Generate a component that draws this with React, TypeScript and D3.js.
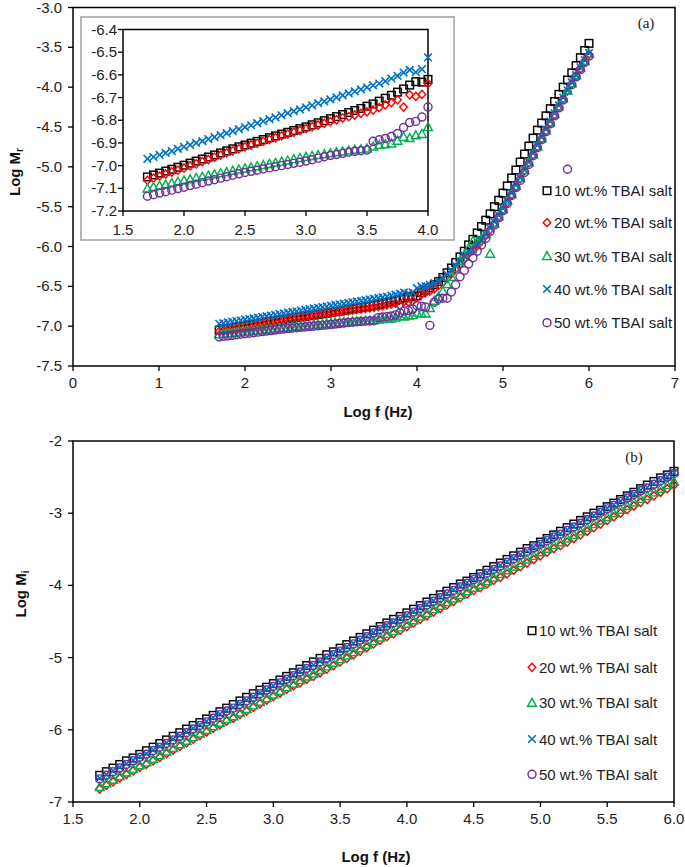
import React from "react";
import * as d3 from "d3";

// ---------- data ----------
const LOG_F = [1.70,1.75,1.80,1.85,1.90,1.95,2.00,2.05,2.10,2.15,2.20,2.25,2.30,2.35,2.40,2.45,2.50,2.55,2.60,2.65,2.70,2.75,2.80,2.85,2.90,2.95,3.00,3.05,3.10,3.15,3.20,3.25,3.30,3.35,3.40,3.45,3.50,3.55,3.60,3.65,3.70,3.75,3.80,3.85,3.90,3.95,4.00,4.05,4.10,4.15,4.20,4.25,4.30,4.35,4.40,4.45,4.50,4.55,4.60,4.65,4.70,4.75,4.80,4.85,4.90,4.95,5.00,5.05,5.10,5.15,5.20,5.25,5.30,5.35,5.40,5.45,5.50,5.55,5.60,5.65,5.70,5.75,5.80,5.85,5.90,5.95,6.00];

const SERIES_NAMES = ["10 wt.% TBAI salt","20 wt.% TBAI salt","30 wt.% TBAI salt","40 wt.% TBAI salt","50 wt.% TBAI salt"];
const SERIES_COLORS = ["#000000","#ff0000","#00b050","#0070c0","#7030a0"];
const SERIES_SHAPES = ["square","diamond","triangle","cross","circle"];

// Log Mr (panel a)
const MR_10 = [-7.050,-7.041,-7.033,-7.024,-7.016,-7.007,-6.998,-6.989,-6.980,-6.971,-6.962,-6.953,-6.944,-6.935,-6.926,-6.917,-6.909,-6.901,-6.893,-6.885,-6.877,-6.869,-6.861,-6.853,-6.845,-6.837,-6.829,-6.820,-6.811,-6.802,-6.793,-6.784,-6.775,-6.766,-6.757,-6.748,-6.738,-6.728,-6.716,-6.703,-6.690,-6.676,-6.662,-6.645,-6.630,-6.632,-6.620,
  -6.58,-6.55,-6.52,-6.48,-6.44,-6.39,-6.33,-6.27,-6.20,-6.13,-6.06,-5.98,-5.91,-5.83,-5.75,-5.67,-5.59,-5.50,-5.42,-5.33,-5.24,-5.14,-5.04,-4.94,-4.84,-4.74,-4.64,-4.54,-4.45,-4.36,-4.27,-4.18,-4.09,-4.00,-3.91,-3.82,-3.73,-3.63,-3.54,-3.45];
const MR_20 = [-7.065,-7.055,-7.046,-7.037,-7.028,-7.020,-7.011,-7.001,-6.992,-6.982,-6.973,-6.963,-6.954,-6.944,-6.935,-6.926,-6.917,-6.909,-6.901,-6.893,-6.885,-6.877,-6.869,-6.861,-6.853,-6.845,-6.837,-6.829,-6.821,-6.814,-6.806,-6.798,-6.790,-6.784,-6.777,-6.770,-6.763,-6.755,-6.744,-6.732,-6.722,-6.710,-6.742,-6.688,-6.695,-6.686,-6.638,
  -6.60,-6.58,-6.56,-6.53,-6.49,-6.45,-6.40,-6.34,-6.28,-6.22,-6.16,-6.09,-6.05,-5.99,-5.93,-5.86,-5.79,-5.71,-5.63,-5.54,-5.45,-5.35,-5.25,-5.15,-5.05,-4.95,-4.85,-4.75,-4.65,-4.55,-4.45,-4.35,-4.25,-4.15,-4.05,-3.96,-3.86,-3.77,-3.68,-3.59];
const MR_30 = [-7.100,-7.094,-7.088,-7.083,-7.077,-7.071,-7.065,-7.060,-7.054,-7.049,-7.044,-7.038,-7.033,-7.028,-7.022,-7.017,-7.012,-7.007,-7.002,-6.997,-6.992,-6.987,-6.982,-6.977,-6.971,-6.966,-6.961,-6.957,-6.953,-6.949,-6.945,-6.941,-6.937,-6.933,-6.930,-6.927,-6.924,-6.915,-6.909,-6.905,-6.902,-6.890,-6.873,-6.878,-6.866,-6.860,-6.829,
  -6.84,-6.84,-6.77,-6.68,-6.63,-6.56,-6.47,-6.38,-6.27,-6.18,-6.10,-6.02,-5.93,-5.94,-5.90,-5.84,-6.09,-5.71,-5.62,-5.53,-5.42,-5.34,-5.24,-5.14,-5.04,-4.94,-4.84,-4.74,-4.64,-4.54,-4.44,-4.34,-4.24,-4.14,-4.04,-3.95,-3.85,-3.76,-3.67,-3.58];
const MR_40 = [-6.970,-6.962,-6.953,-6.944,-6.936,-6.926,-6.917,-6.909,-6.900,-6.892,-6.883,-6.874,-6.866,-6.857,-6.848,-6.839,-6.830,-6.822,-6.813,-6.804,-6.795,-6.787,-6.778,-6.769,-6.760,-6.752,-6.743,-6.734,-6.725,-6.717,-6.708,-6.699,-6.690,-6.682,-6.673,-6.664,-6.655,-6.646,-6.638,-6.628,-6.616,-6.604,-6.590,-6.578,-6.588,-6.575,-6.523,
  -6.50,-6.50,-6.48,-6.46,-6.43,-6.40,-6.35,-6.30,-6.24,-6.18,-6.12,-6.06,-6.04,-5.98,-5.92,-5.85,-5.77,-5.69,-5.61,-5.52,-5.43,-5.33,-5.23,-5.14,-5.04,-4.94,-4.83,-4.73,-4.63,-4.53,-4.43,-4.33,-4.23,-4.13,-4.04,-3.94,-3.85,-3.75,-3.66,-3.57];
const MR_50 = [-7.135,-7.128,-7.121,-7.115,-7.108,-7.101,-7.095,-7.088,-7.082,-7.075,-7.068,-7.062,-7.055,-7.049,-7.042,-7.036,-7.030,-7.025,-7.020,-7.015,-7.010,-7.005,-7.000,-6.995,-6.990,-6.985,-6.980,-6.974,-6.967,-6.961,-6.955,-6.951,-6.946,-6.941,-6.937,-6.934,-6.931,-6.893,-6.886,-6.880,-6.872,-6.858,-6.832,-6.810,-6.805,-6.786,-6.742,
  -6.75,-6.76,-6.99,-6.70,-6.66,-6.65,-6.65,-6.57,-6.48,-6.38,-6.30,-6.22,-6.14,-6.06,-5.98,-5.90,-5.81,-5.73,-5.64,-5.55,-5.46,-5.36,-5.26,-5.17,-5.07,-4.97,-4.86,-4.76,-4.66,-4.56,-4.46,-4.36,-4.26,-4.16,-5.03,-3.97,-3.87,-3.78,-3.69,-3.61];

// Log Mi (panel b)
const MI_10 = [-6.63,-6.58,-6.53,-6.48,-6.43,-6.39,-6.34,-6.29,-6.24,-6.19,-6.14,-6.09,-6.04,-5.99,-5.94,-5.90,-5.85,-5.80,-5.75,-5.70,-5.65,-5.60,-5.55,-5.50,-5.45,-5.41,-5.36,-5.31,-5.26,-5.21,-5.16,-5.11,-5.06,-5.01,-4.96,-4.92,-4.87,-4.82,-4.77,-4.72,-4.67,-4.62,-4.57,-4.52,-4.47,-4.43,-4.38,-4.33,-4.28,-4.23,-4.18,-4.13,-4.08,-4.03,-3.98,-3.94,-3.89,-3.84,-3.79,-3.74,-3.69,-3.64,-3.59,-3.54,-3.49,-3.45,-3.40,-3.35,-3.30,-3.25,-3.20,-3.15,-3.10,-3.05,-3.00,-2.96,-2.91,-2.86,-2.81,-2.76,-2.71,-2.66,-2.61,-2.56,-2.51,-2.47,-2.42];
const MI_20 = [-6.82,-6.77,-6.72,-6.67,-6.62,-6.57,-6.52,-6.48,-6.43,-6.38,-6.33,-6.28,-6.23,-6.18,-6.13,-6.08,-6.03,-5.98,-5.93,-5.88,-5.84,-5.79,-5.74,-5.69,-5.64,-5.59,-5.54,-5.49,-5.44,-5.39,-5.35,-5.30,-5.26,-5.21,-5.16,-5.11,-5.06,-5.01,-4.96,-4.91,-4.86,-4.81,-4.76,-4.71,-4.67,-4.62,-4.57,-4.52,-4.47,-4.42,-4.37,-4.32,-4.27,-4.22,-4.17,-4.12,-4.07,-4.03,-3.98,-3.93,-3.89,-3.84,-3.79,-3.74,-3.69,-3.64,-3.59,-3.54,-3.49,-3.45,-3.40,-3.35,-3.30,-3.25,-3.20,-3.15,-3.10,-3.05,-3.00,-2.95,-2.90,-2.85,-2.81,-2.76,-2.71,-2.66,-2.61];
const MI_30 = [-6.79,-6.74,-6.69,-6.64,-6.59,-6.54,-6.49,-6.45,-6.40,-6.35,-6.30,-6.25,-6.20,-6.15,-6.10,-6.05,-6.00,-5.95,-5.90,-5.85,-5.81,-5.76,-5.71,-5.66,-5.61,-5.56,-5.51,-5.46,-5.41,-5.36,-5.31,-5.26,-5.22,-5.17,-5.12,-5.07,-5.02,-4.97,-4.92,-4.87,-4.82,-4.77,-4.72,-4.67,-4.63,-4.58,-4.53,-4.48,-4.43,-4.38,-4.33,-4.28,-4.23,-4.18,-4.13,-4.08,-4.03,-3.99,-3.94,-3.89,-3.84,-3.79,-3.74,-3.69,-3.64,-3.59,-3.54,-3.49,-3.44,-3.40,-3.35,-3.30,-3.25,-3.20,-3.15,-3.10,-3.05,-3.00,-2.95,-2.90,-2.85,-2.80,-2.76,-2.71,-2.66,-2.61,-2.56];
const MI_40 = [-6.67,-6.62,-6.57,-6.52,-6.47,-6.42,-6.37,-6.33,-6.28,-6.23,-6.18,-6.13,-6.08,-6.03,-5.98,-5.93,-5.88,-5.83,-5.78,-5.73,-5.69,-5.64,-5.59,-5.54,-5.49,-5.44,-5.39,-5.34,-5.29,-5.24,-5.19,-5.14,-5.10,-5.05,-5.00,-4.95,-4.90,-4.85,-4.80,-4.75,-4.70,-4.65,-4.60,-4.55,-4.51,-4.46,-4.41,-4.36,-4.31,-4.26,-4.21,-4.16,-4.11,-4.06,-4.01,-3.96,-3.91,-3.87,-3.82,-3.77,-3.72,-3.67,-3.62,-3.57,-3.52,-3.47,-3.42,-3.37,-3.32,-3.28,-3.23,-3.18,-3.13,-3.08,-3.03,-2.98,-2.93,-2.88,-2.83,-2.78,-2.73,-2.68,-2.64,-2.59,-2.54,-2.49,-2.44];
const MI_50 = [-6.68,-6.63,-6.58,-6.53,-6.48,-6.43,-6.38,-6.34,-6.29,-6.24,-6.19,-6.14,-6.09,-6.04,-5.99,-5.94,-5.89,-5.84,-5.79,-5.74,-5.70,-5.65,-5.60,-5.55,-5.50,-5.45,-5.40,-5.35,-5.30,-5.25,-5.20,-5.15,-5.11,-5.06,-5.01,-4.96,-4.91,-4.86,-4.81,-4.76,-4.71,-4.66,-4.61,-4.56,-4.52,-4.47,-4.42,-4.37,-4.32,-4.27,-4.22,-4.17,-4.12,-4.07,-4.02,-3.97,-3.92,-3.88,-3.83,-3.78,-3.73,-3.68,-3.63,-3.58,-3.53,-3.48,-3.43,-3.38,-3.33,-3.29,-3.24,-3.19,-3.14,-3.09,-3.04,-2.99,-2.94,-2.89,-2.84,-2.79,-2.74,-2.69,-2.65,-2.60,-2.55,-2.50,-2.45];

const TOP_X_TICKS = [0, 1, 2, 3, 4, 5, 6, 7];
const TOP_Y_TICKS = [-3.0, -3.5, -4.0, -4.5, -5.0, -5.5, -6.0, -6.5, -7.0, -7.5];
const INSET_X_TICKS = [1.5, 2.0, 2.5, 3.0, 3.5, 4.0];
const INSET_Y_TICKS = [-6.4, -6.5, -6.6, -6.7, -6.8, -6.9, -7.0, -7.1, -7.2];
const BOT_X_TICKS = [1.5, 2.0, 2.5, 3.0, 3.5, 4.0, 4.5, 5.0, 5.5, 6.0];
const BOT_Y_TICKS = [-2, -3, -4, -5, -6, -7];

const MR_SERIES = [MR_10, MR_20, MR_30, MR_40, MR_50];
const MI_SERIES = [MI_10, MI_20, MI_30, MI_40, MI_50];

const FONT = "'Liberation Sans', Arial, sans-serif";

function Marker({ shape, x, y, color, s = 3.8 }: any) {
  const sw = 1.45;
  if (shape === "square")
    return <rect x={x - s} y={y - s} width={2 * s} height={2 * s} fill="none" stroke={color} strokeWidth={sw} />;
  if (shape === "diamond")
    return <path d={`M${x},${y - s - 0.3}L${x + s},${y}L${x},${y + s + 0.3}L${x - s},${y}Z`} fill="none" stroke={color} strokeWidth={sw} />;
  if (shape === "triangle")
    return <path d={`M${x},${y - s - 0.6}L${x + s + 0.6},${y + s - 0.2}L${x - s - 0.6},${y + s - 0.2}Z`} fill="none" stroke={color} strokeWidth={sw} />;
  if (shape === "cross")
    return (
      <g stroke={color} strokeWidth={1.6}>
        <line x1={x - s} y1={y - s} x2={x + s} y2={y + s} />
        <line x1={x - s} y1={y + s} x2={x + s} y2={y - s} />
      </g>
    );
  return <circle cx={x} cy={y} r={s + 0.2} fill="none" stroke={color} strokeWidth={sw} />;
}

function Series({ xs, ys, xScale, yScale, shape, color, filter }: any) {
  return (
    <g>
      {xs.map((xv: number, i: number) =>
        filter && !filter(xv) ? null : (
          <Marker key={i} shape={shape} x={xScale(xv)} y={yScale(ys[i])} color={color} />
        )
      )}
    </g>
  );
}

function Axes({ x, y, xTicks, yTicks, xFmt, yFmt, fs = 15, xLabelDy = 22, yLabelDx = 11 }: any) {
  const [x0, x1] = x.range();
  const [y0, y1] = y.range();
  const top = Math.min(y0, y1), bot = Math.max(y0, y1);
  return (
    <g fontFamily={FONT} fontSize={fs} fill="#222">
      <rect x={x0} y={top} width={x1 - x0} height={bot - top} fill="none" stroke="#000" strokeWidth={1.5} />
      {xTicks.map((t: number) => (
        <g key={"x" + t}>
          <line x1={x(t)} x2={x(t)} y1={bot} y2={bot + 5} stroke="#000" strokeWidth={1.3} />
          <text x={x(t)} y={bot + xLabelDy} textAnchor="middle">{xFmt(t)}</text>
        </g>
      ))}
      {yTicks.map((t: number) => (
        <g key={"y" + t}>
          <line x1={x0 - 5} x2={x0} y1={y(t)} y2={y(t)} stroke="#000" strokeWidth={1.3} />
          <text x={x0 - yLabelDx} y={y(t) + 5} textAnchor="end">{yFmt(t)}</text>
        </g>
      ))}
    </g>
  );
}

function Legend({ x, ys }: any) {
  return (
    <g fontFamily={FONT} fontSize={15} fill="#222">
      {SERIES_NAMES.map((n, i) => (
        <g key={n}>
          <Marker shape={SERIES_SHAPES[i]} x={x} y={ys[i]} color={SERIES_COLORS[i]} />
          <text x={x + 7} y={ys[i] + 5.5}>{n}</text>
        </g>
      ))}
    </g>
  );
}

export default function App() {
  const fmt1 = d3.format(".1f");
  const fmtNeg1 = (v: number) => fmt1(v).replace("−", "-");
  const fmt0 = (v: number) => String(v);

  // panel a
  const xA = d3.scaleLinear().domain([0, 7]).range([73, 675]);
  const yA = d3.scaleLinear().domain([-7.5, -3.0]).range([366, 7.5]);
  // inset
  const xI = d3.scaleLinear().domain([1.5, 4.0]).range([123, 428]);
  const yI = d3.scaleLinear().domain([-7.2, -6.4]).range([211, 29.5]);
  // panel b
  const xB = d3.scaleLinear().domain([1.5, 6.0]).range([73, 674]);
  const yB = d3.scaleLinear().domain([-7, -2]).range([802, 441]);

  return (
    <svg width={685} height={867} style={{ position: "absolute", left: 0, top: 0, background: "#fff" }}>
      <rect width={685} height={867} fill="#fff" />

      {/* Panel a */}
      <Axes x={xA} y={yA} xTicks={TOP_X_TICKS} yTicks={TOP_Y_TICKS} xFmt={fmt0} yFmt={fmtNeg1} />
      {MR_SERIES.map((ys, i) => (
        <Series key={i} xs={LOG_F} ys={ys} xScale={xA} yScale={yA} shape={SERIES_SHAPES[i]} color={SERIES_COLORS[i]} />
      ))}
      <text x={646} y={28} fontFamily="'Liberation Serif', 'Times New Roman', serif" fontSize={15} textAnchor="middle" fill="#222">(a)</text>
      <Legend x={547} ys={[190.7, 222.7, 256, 289, 322.7]} />
      <text x={378} y={417} fontFamily={FONT} fontSize={15} fontWeight="bold" textAnchor="middle" fill="#111">Log f (Hz)</text>
      <text transform="translate(20,172) rotate(-90)" fontFamily={FONT} fontSize={15} fontWeight="bold" textAnchor="middle" fill="#111">
        Log M<tspan fontSize={10} dy={3}>r</tspan>
      </text>

      {/* Inset */}
      <rect x={81} y={17} width={373} height={223} fill="#fff" stroke="#a0a0a0" strokeWidth={1.5} />
      <Axes x={xI} y={yI} xTicks={INSET_X_TICKS} yTicks={INSET_Y_TICKS} xFmt={fmt1} yFmt={fmtNeg1} xLabelDy={24} yLabelDx={6} />
      {MR_SERIES.map((ys, i) => (
        <Series key={i} xs={LOG_F} ys={ys} xScale={xI} yScale={yI} shape={SERIES_SHAPES[i]} color={SERIES_COLORS[i]} filter={(v: number) => v <= 4.001} />
      ))}

      {/* Panel b */}
      <Axes x={xB} y={yB} xTicks={BOT_X_TICKS} yTicks={BOT_Y_TICKS} xFmt={fmt1} yFmt={fmt0} />
      {MI_SERIES.map((ys, i) => (
        <Series key={i} xs={LOG_F} ys={ys} xScale={xB} yScale={yB} shape={SERIES_SHAPES[i]} color={SERIES_COLORS[i]} />
      ))}
      <text x={634} y={462} fontFamily="'Liberation Serif', 'Times New Roman', serif" fontSize={15} textAnchor="middle" fill="#222">(b)</text>
      <Legend x={532} ys={[630.7, 667.3, 702.7, 739, 774.3]} />
      <text x={376} y={862} fontFamily={FONT} fontSize={15} fontWeight="bold" textAnchor="middle" fill="#111">Log f (Hz)</text>
      <text transform="translate(26,594) rotate(-90)" fontFamily={FONT} fontSize={15} fontWeight="bold" textAnchor="middle" fill="#111">
        Log M<tspan fontSize={10} dy={3}>i</tspan>
      </text>
    </svg>
  );
}
